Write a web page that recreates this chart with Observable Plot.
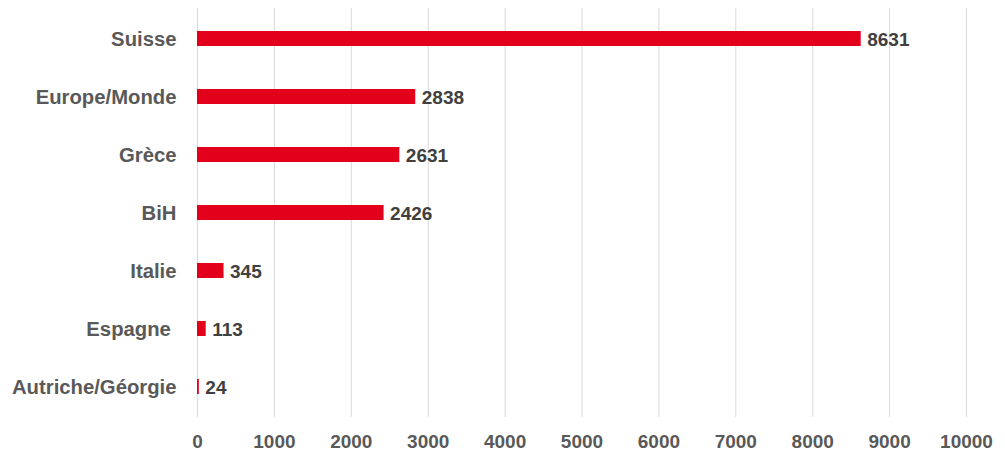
<!DOCTYPE html>
<html><head><meta charset="utf-8">
<script src="https://cdn.jsdelivr.net/npm/d3@7"></script>
<script src="https://cdn.jsdelivr.net/npm/@observablehq/plot@0.6"></script>
<style>
html,body{margin:0;padding:0;background:#fff;}
</style>
</head><body>
<div id="chart"></div>
<script>
const categories = ["Suisse", "Europe/Monde", "Grèce", "BiH", "Italie", "Espagne\u00a0", "Autriche/Géorgie"];
const values = [8631, 2838, 2631, 2426, 345, 113, 24];
const xTicks = [0,1000,2000,3000,4000,5000,6000,7000,8000,9000,10000];

const data = categories.map((c, i) => ({category: c, value: values[i]}));
const font = "'Liberation Sans', Arial, sans-serif";

const chart = Plot.plot({
  width: 1005,
  height: 458,
  marginLeft: 197,
  marginRight: 39,
  marginTop: 8,
  marginBottom: 41,
  style: {fontFamily: font, background: "#fff"},
  x: {domain: [0, 10000], ticks: xTicks, label: null},
  y: {domain: categories, label: null, paddingInner: 0.74, paddingOuter: 0.37},
  marks: [
    Plot.gridX(xTicks, {stroke: "#d9d9d9", strokeOpacity: 1, strokeWidth: 1}),
    Plot.barX(data, {x: "value", y: "category", fill: "#E2001A"}),
    Plot.text(data, {x: "value", y: "category", text: d => String(d.value), textAnchor: "start", dx: 6, dy: 1, fill: "#404040", fontSize: 19, fontWeight: "bold"}),
    Plot.axisX(xTicks, {tickSize: 0, tickPadding: 17, fontSize: 19, fontWeight: "bold", color: "#595959", tickFormat: d => String(d)}),
    Plot.axisY({tickSize: 0, tickPadding: 21, fontSize: 20.3, fontWeight: "bold", color: "#595959"})
  ]
});
document.getElementById("chart").appendChild(chart);
</script>
</body></html>
